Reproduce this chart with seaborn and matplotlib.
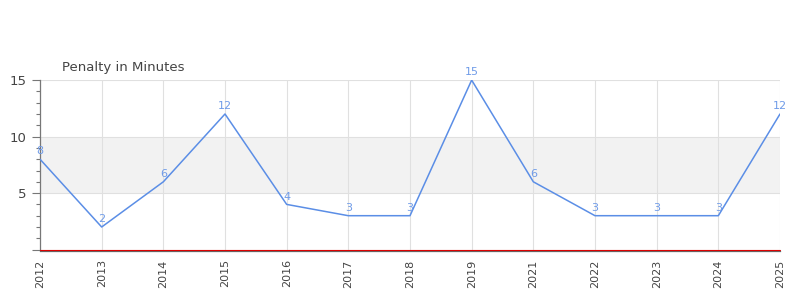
import matplotlib
matplotlib.use("Agg")
import matplotlib.pyplot as plt
import seaborn as sns
import pandas as pd
from matplotlib.ticker import MultipleLocator, FixedLocator

years = ["2012", "2013", "2014", "2015", "2016", "2017", "2018", "2019",
         "2021", "2022", "2023", "2024", "2025"]
penalty = [8, 2, 6, 12, 4, 3, 3, 15, 6, 3, 3, 3, 12]
title = "Penalty in Minutes"
band_low, band_high = 5, 10

df = pd.DataFrame({"year": years, "pim": penalty})

sns.set_theme(style="white")
plt.rcParams['font.family'] = ['DejaVu Sans']

fig = plt.figure(figsize=(8, 3), dpi=100)
ax = fig.add_axes([0.05, 0.168, 0.925, 0.565])

line_color = "#5b8ee6"
ax.axhspan(band_low, band_high, color="#f2f2f2", zorder=0, lw=0)

sns.lineplot(data=df, x="year", y="pim", ax=ax, color=line_color,
             linewidth=1.1, sort=False, zorder=3)

x_pos = list(range(len(years)))
for xi, v in zip(x_pos, penalty):
    ax.annotate(str(v), (xi, v), xytext=(0, 2), textcoords="offset points",
                ha="center", va="bottom", fontsize=8, color="#6f9be8",
                annotation_clip=False, zorder=4)

ax.set_xlim(0, len(years) - 1)
ax.set_ylim(0, 15)
ax.yaxis.set_major_locator(FixedLocator([0, 5, 10, 15]))
ax.yaxis.set_minor_locator(MultipleLocator(1))
ax.set_yticklabels(["", "5", "10", "15"])

ax.grid(True, axis="both", which="major", color="#e0e0e0", linewidth=0.8, zorder=1)
ax.set_axisbelow(True)

ax.axhline(0, color="#dd0000", linewidth=0.8, zorder=5, clip_on=False)

for s in ["top", "right"]:
    ax.spines[s].set_visible(False)
ax.spines["left"].set_color("#777777")
ax.spines["left"].set_linewidth(0.9)
ax.spines["bottom"].set_color("#666666")
ax.spines["bottom"].set_linewidth(0.9)
ax.spines["bottom"].set_position(("outward", 1))

ax.tick_params(axis="y", which="major", length=6, width=0.8, color="#777777",
               labelsize=9.5, labelcolor="#444444", pad=4, left=True)
ax.tick_params(axis="y", which="minor", length=3, width=0.8, color="#777777", left=True)
ax.tick_params(axis="x", which="both", length=0, labelsize=8, labelcolor="#444444",
               rotation=90, pad=6)

ax.set_xlabel("")
ax.set_ylabel("")

fig.text(62 / 800, 1 - 67 / 300, title, fontsize=9.5, color="#444444",
         ha="left", va="center")

fig.savefig("out.png", dpi=100)
